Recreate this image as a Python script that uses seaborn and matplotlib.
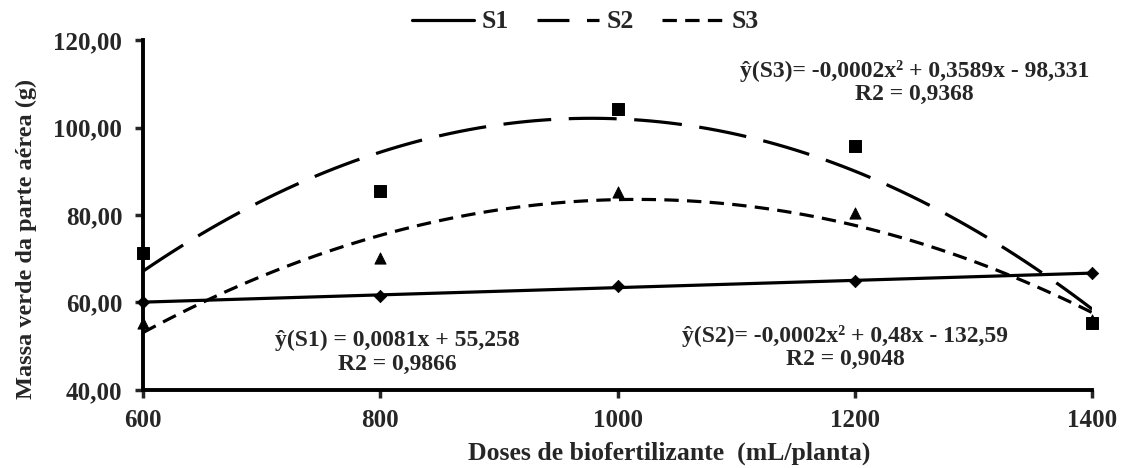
import matplotlib
matplotlib.use("Agg")
import matplotlib.pyplot as plt
import matplotlib.ticker as mticker
from matplotlib.lines import Line2D
import seaborn as sns
import pandas as pd

doses = [600, 800, 1000, 1200, 1400]
s1 = [60.1, 61.5, 63.8, 64.9, 66.7]
s2 = [71.2, 85.5, 104.3, 95.8, 55.2]
s3 = [55.4, 70.2, 85.3, 80.4, 56.0]
series_names = ["S1", "S2", "S3"]
x_ticks = [600, 800, 1000, 1200, 1400]
y_ticks = [40, 60, 80, 100, 120]

eq_s1 = "ŷ(S1) = 0,0081x + 55,258\nR2 = 0,9866"
eq_s2 = "ŷ(S2)= -0,0002x² + 0,48x - 132,59\nR2 = 0,9048"
eq_s3 = "ŷ(S3)= -0,0002x² + 0,3589x - 98,331\nR2 = 0,9368"

sns.set_theme(style="ticks")
plt.rcParams["font.family"] = ["Liberation Serif", "DejaVu Serif"]
plt.rcParams["font.weight"] = "bold"

df = pd.DataFrame({"dose": doses * 3,
                   "massa": s1 + s2 + s3,
                   "serie": [n for n in series_names for _ in doses]})

fig = plt.figure(figsize=(11.26, 4.68), dpi=100)
ax = fig.add_axes([0.127, 0.1667, 0.843, 0.7478])

styles = {
    "S1": dict(order=1, dashes=None, marker="D", ms=40, z=5),
    "S2": dict(order=2, dashes=(15, 5.5), marker="s", ms=75, z=7),
    "S3": dict(order=2, dashes=(4.5, 2.6), marker="^", ms=65, z=6),
}
handles = []
for name in series_names:
    st = styles[name]
    sub = df[df["serie"] == name]
    line_kws = dict(color="black", lw=2.3)
    if st["dashes"] is not None:
        line_kws["dashes"] = st["dashes"]
    sns.regplot(data=sub, x="dose", y="massa", order=st["order"], ci=None,
                scatter=False, ax=ax, line_kws=line_kws, truncate=True)
    sns.scatterplot(data=sub, x="dose", y="massa", marker=st["marker"],
                    s=st["ms"], color="black", edgecolor="black", ax=ax,
                    zorder=st["z"], clip_on=False, legend=False)
    h = Line2D([], [], color="black", lw=2.3)
    if st["dashes"] is not None:
        h.set_dashes((10, 5.5) if name == "S2" else st["dashes"])
    handles.append(h)

ax.set_xlim(600, 1400)
ax.set_ylim(40, 120)
ax.set_xticks(x_ticks)
ax.set_yticks(y_ticks)
ax.yaxis.set_major_formatter(mticker.FuncFormatter(lambda v, p: f"{v:.2f}".replace(".", ",")))
ax.tick_params(axis="both", direction="out", length=6, width=2.5, labelsize=18)
ax.tick_params(axis="y", pad=9)
ax.tick_params(axis="x", pad=8)
for lab in ax.get_xticklabels() + ax.get_yticklabels():
    lab.set_fontweight("bold")
sns.despine(ax=ax)
for sp in ("left", "bottom"):
    ax.spines[sp].set_linewidth(2.8)
    ax.spines[sp].set_color("black")

ax.set_xlabel("Doses de biofertilizante  (mL/planta)", fontsize=18.5, fontweight="bold")
ax.set_ylabel("Massa verde da parte aérea (g)", fontsize=17.5, fontweight="bold")
ax.xaxis.set_label_coords(0.554, -0.148)
ax.yaxis.set_label_coords(-0.112, 0.431)

txt = dict(transform=ax.transAxes, ha="center", va="center", fontsize=17,
           fontweight="bold", linespacing=1.15)
ax.text(0.268, 0.108, eq_s1, **txt)
ax.text(0.740, 0.122, eq_s2, **txt)
ax.text(0.813, 0.878, eq_s3, **txt)

fig.legend(handles, series_names, loc="center", bbox_to_anchor=(0.52, 0.953),
           ncol=3, frameon=False, fontsize=18.5, handlelength=2.4,
           columnspacing=1.1, handletextpad=0.3)

fig.savefig("out.png", dpi=100)
